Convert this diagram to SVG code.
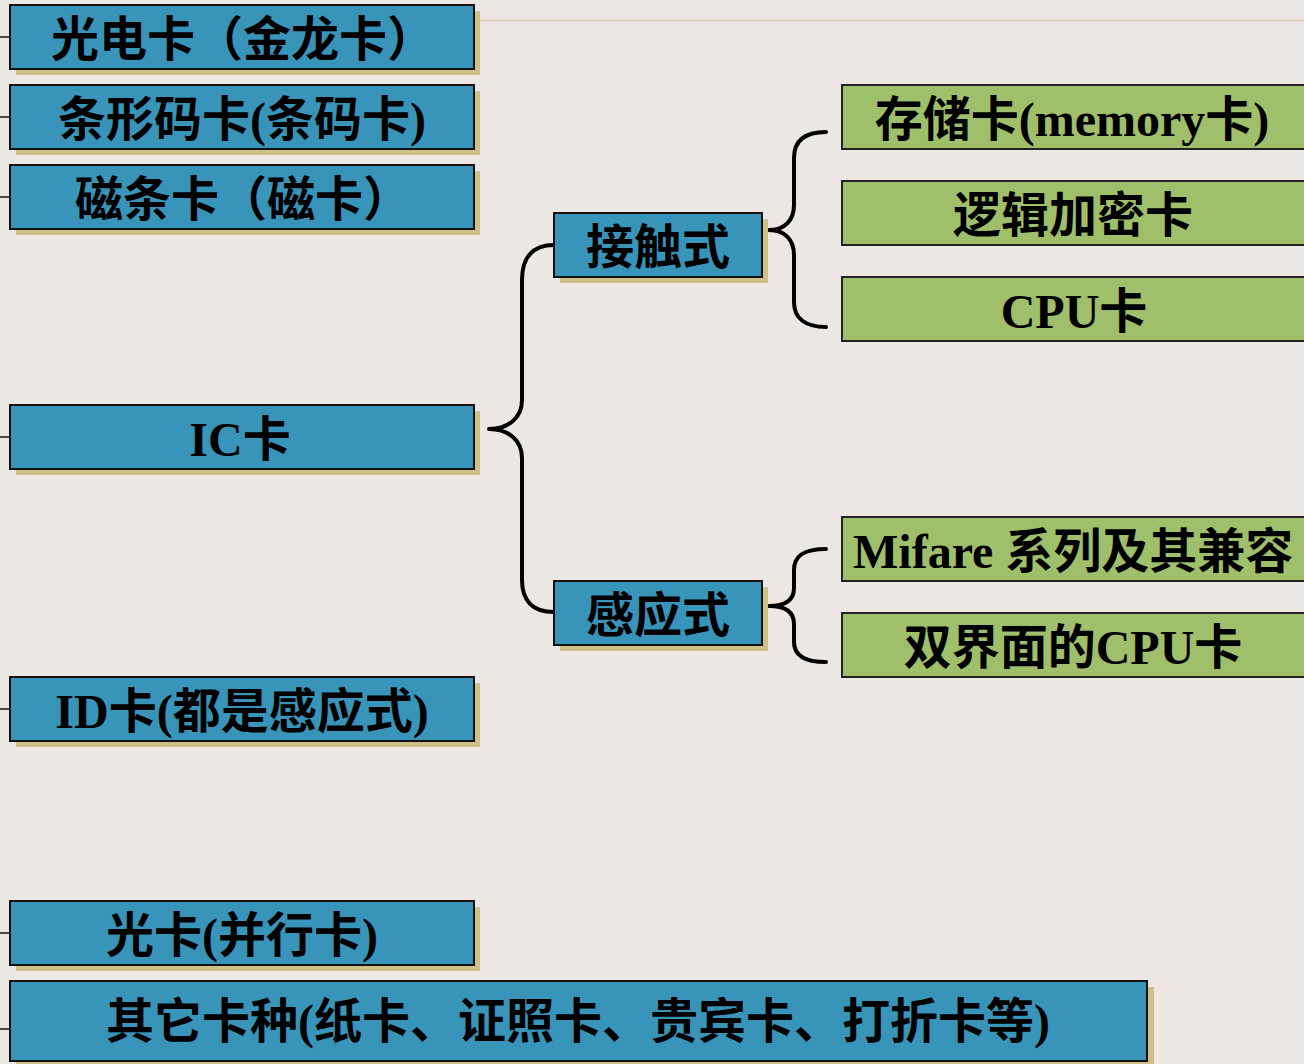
<svg xmlns="http://www.w3.org/2000/svg" width="1304" height="1064" viewBox="0 0 1304 1064">
<defs>
<style>
.bg{fill:#ECE7E3}
.sh{fill:#CFC08A}
.blue{fill:#3894B8;stroke:#111;stroke-width:2}
.green{fill:#9FBF6A;stroke:#222;stroke-width:2}
.t{font-family:"Liberation Serif","Noto Sans CJK SC",serif;font-weight:bold;font-size:48px;fill:#000;text-anchor:middle}
.ts{text-anchor:start}
.stub{stroke:#111;stroke-width:1.5}
.brace{fill:none;stroke:#000;stroke-width:4;stroke-linecap:round;stroke-linejoin:round}
</style>
</defs>
<rect class="bg" x="0" y="0" width="1304" height="1064"/>
<line x1="480" y1="20.5" x2="1304" y2="20.5" stroke="#D6CCB0" stroke-width="1.5"/>

<g id="connectors">
<line class="stub" x1="0" y1="37" x2="10" y2="37"/>
<line class="stub" x1="0" y1="117" x2="10" y2="117"/>
<line class="stub" x1="0" y1="197" x2="10" y2="197"/>
<line class="stub" x1="0" y1="437" x2="10" y2="437"/>
<line class="stub" x1="0" y1="709" x2="10" y2="709"/>
<line class="stub" x1="0" y1="933" x2="10" y2="933"/>
<line class="stub" x1="0" y1="1029" x2="10" y2="1029"/>
<path class="brace" d="M554,245 C532,245 522,258 522,280 L522,400 C522,418 508,429 489,429 C508,429 522,440 522,458 L522,580 C522,600 532,612 554,612"/>
<path class="brace" d="M826,132 C805,132 794,140 794,158 L794,205 C794,220 785,230 769,230 C785,230 794,240 794,255 L794,302 C794,318 805,327 826,327"/>
<path class="brace" d="M826,549 C805,549 794,555 794,570 L794,588 C794,600 785,606 769,606 C785,606 794,612 794,624 L794,642 C794,656 805,662 826,662"/>
</g>

<g id="n1"><rect class="sh" x="16" y="11" width="464" height="64"/><rect class="blue" x="10" y="5" width="464" height="64"/><text class="t" x="243" y="56">光电卡（金龙卡）</text></g>
<g id="n2"><rect class="sh" x="16" y="91" width="464" height="64"/><rect class="blue" x="10" y="85" width="464" height="64"/><text class="t" x="242" y="136">条形码卡(条码卡)</text></g>
<g id="n3"><rect class="sh" x="16" y="171" width="464" height="64"/><rect class="blue" x="10" y="165" width="464" height="64"/><text class="t" x="243" y="216">磁条卡（磁卡）</text></g>
<g id="n4"><rect class="sh" x="16" y="411" width="464" height="64"/><rect class="blue" x="10" y="405" width="464" height="64"/><text class="t" x="240" y="456">IC卡</text></g>
<g id="n5"><rect class="sh" x="16" y="683" width="464" height="64"/><rect class="blue" x="10" y="677" width="464" height="64"/><text class="t" x="242" y="728">ID卡(都是感应式)</text></g>
<g id="n6"><rect class="sh" x="16" y="907" width="464" height="64"/><rect class="blue" x="10" y="901" width="464" height="64"/><text class="t" x="242" y="952">光卡(并行卡)</text></g>
<g id="n7"><rect class="sh" x="16" y="987" width="1138" height="80"/><rect class="blue" x="10" y="981" width="1137" height="80"/><text class="t" x="578" y="1038">其它卡种(纸卡、证照卡、贵宾卡、打折卡等)</text></g>
<g id="n8"><rect class="sh" x="560" y="219" width="208" height="64"/><rect class="blue" x="554" y="213" width="208" height="64"/><text class="t" x="658" y="264">接触式</text></g>
<g id="n9"><rect class="sh" x="560" y="587" width="208" height="64"/><rect class="blue" x="554" y="581" width="208" height="64"/><text class="t" x="658" y="632">感应式</text></g>
<g id="n10"><rect class="green" x="842" y="85" width="470" height="64"/><text class="t" x="1072" y="136">存储卡(memory卡)</text></g>
<g id="n11"><rect class="green" x="842" y="181" width="470" height="64"/><text class="t" x="1073" y="232">逻辑加密卡</text></g>
<g id="n12"><rect class="green" x="842" y="277" width="470" height="64"/><text class="t" x="1074" y="328">CPU卡</text></g>
<g id="n13"><rect class="green" x="842" y="517" width="470" height="64"/><text class="t ts" x="853" y="568">Mifare 系列及其兼容</text></g>
<g id="n14"><rect class="green" x="842" y="613" width="470" height="64"/><text class="t" x="1073" y="664">双界面的CPU卡</text></g>
</svg>
